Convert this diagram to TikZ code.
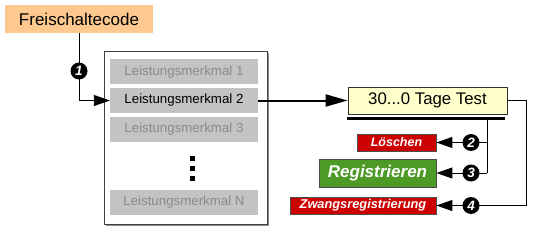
\documentclass[tikz,border=0pt]{standalone}
\usepackage{fontspec}
\setmainfont{Liberation Sans}
\usetikzlibrary{arrows.meta}
\definecolor{codeor}{HTML}{FDC98F}
\definecolor{featgray}{HTML}{C3C3C3}
\definecolor{feattxt}{HTML}{8A8A8A}
\definecolor{testyel}{HTML}{FFFFCC}
\definecolor{redbox}{HTML}{CC0000}
\definecolor{greenbox}{HTML}{4E9A26}
\tikzset{
  feat/.style={rectangle, fill=featgray, minimum width=148pt, minimum height=25pt, inner sep=0pt, font=\fontsize{13.3}{15}\selectfont},
  marker/.style={circle, fill=black, text=white, inner sep=0pt, minimum size=17pt, font=\fontsize{13.5}{14}\selectfont\bfseries\itshape},
  actbox/.style={rectangle, draw=black!70, line width=0.8pt, text=white, inner sep=0pt, font=\bfseries\itshape},
  conn/.style={line width=0.9pt, -{Triangle[length=16pt,width=11pt]}},
  plain/.style={line width=0.9pt}
}
\begin{document}
\begin{tikzpicture}[x=1pt,y=-1pt]
\useasboundingbox (0,0) rectangle (533,230);
% Freischaltecode
\node[rectangle, fill=codeor, minimum width=148pt, minimum height=28pt, inner sep=0pt, font=\fontsize{17}{19}\selectfont] (code) at (79,19) {Freischaltecode};
% container
\fill[black!45] (106,53) rectangle (269,226);
\node[rectangle, draw=black!75, fill=white, line width=0.8pt, minimum width=163pt, minimum height=173pt, inner sep=0pt] (cont) at (185.5,138) {};
\node[feat, text=feattxt] (f1) at (184,72) {Leistungsmerkmal 1};
\node[feat, text=black] (f2) at (184,100.5) {Leistungsmerkmal 2};
\node[feat, text=feattxt] (f3) at (184,129) {Leistungsmerkmal 3};
\node[feat, text=feattxt] (fn) at (184,202.5) {Leistungsmerkmal N};
\fill[black] (189.5,155.5) rectangle (194.5,160.5);
\fill[black] (189.5,165.5) rectangle (194.5,170.5);
\fill[black] (189.5,175.5) rectangle (194.5,180.5);
% connector 1
\coordinate (c1) at (79,100.5);
\draw[plain] (code.south -| c1) -- (c1);
\draw[conn] (c1) -- (f2.west);
\node[marker] (m1) at (79,71) {1};
% Test box
\node[rectangle, draw=black!80, fill=testyel, line width=0.8pt, minimum width=159pt, minimum height=27pt, inner sep=0pt, font=\fontsize{16.8}{19}\selectfont] (test) at (427.5,100.5) {30...0 Tage Test};
\draw[line width=3pt] (347,118.5) -- (505,118.5);
\draw[line width=2pt, -{Triangle[length=22pt,width=12pt]}] (f2.east) -- (test.west);
% action boxes
\node[actbox, fill=redbox, minimum width=79pt, minimum height=17pt, font=\fontsize{12.5}{14}\selectfont\bfseries\itshape] (del) at (396.5,142.5) {Löschen};
\node[actbox, fill=greenbox, minimum width=117pt, minimum height=28pt, font=\fontsize{17}{19}\selectfont\bfseries\itshape] (reg) at (377.5,173) {Registrieren};
\node[actbox, fill=redbox, minimum width=146pt, minimum height=17pt, font=\fontsize{12.8}{14}\selectfont\bfseries\itshape] (force) at (363,205.5) {Zwangsregistrierung};
% branches from test
\coordinate (b0) at (487,118.5);
\coordinate (b2) at (487,142.5);
\coordinate (b3) at (487,173);
\draw[plain] (b0) -- (b3);
\draw[conn] (b2) -- (del.east);
\draw[conn] (b3) -- (reg.east);
\coordinate (r1) at (526,100.5);
\coordinate (r2) at (526,205.5);
\draw[plain] (test.east) -- (r1) -- (r2);
\draw[conn] (r2) -- (force.east);
\node[marker] (m2) at (471,142.5) {2};
\node[marker] (m3) at (471,173) {3};
\node[marker] (m4) at (471,205.5) {4};
\end{tikzpicture}
\end{document}
